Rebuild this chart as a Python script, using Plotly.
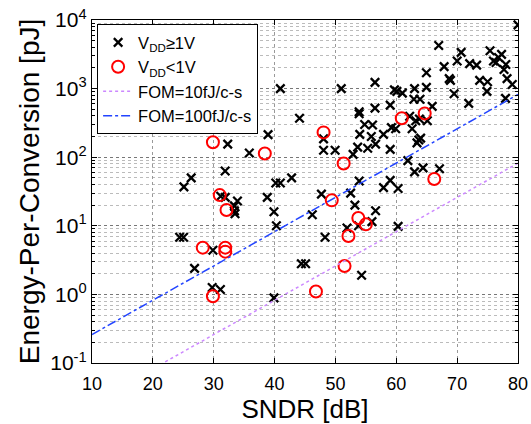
import plotly.graph_objects as go

# VDD >= 1V (black x)
hi_sndr = [80.0, 66.97, 70.66, 75.4, 70.0, 67.86, 72.06, 73.2, 75.97, 76.8, 77.3, 76.4, 78.0, 77.7, 78.2, 79.06,
           64.95, 68.7, 68.9, 73.7, 75.0, 74.9, 69.5, 77.95, 71.9, 65.9, 56.5, 59.7, 60.1, 61.0, 63.0, 64.95,
           62.9, 63.9, 50.96, 40.95, 44.1, 53.9, 53.9, 56.5, 59.0, 54.8, 56.1, 54.0, 55.9, 57.9, 59.2, 59.9,
           62.2, 62.6, 63.2, 63.8, 65.1, 63.7, 64.0, 63.4, 56.6, 55.3, 53.65, 52.9, 59.0, 61.9, 63.0, 64.4,
           67.1, 38.93, 48.05, 48.05, 49.95, 35.85, 32.3, 31.88, 26.3, 25.1, 42.8, 40.2, 40.95, 38.8, 39.9,
           40.3, 47.7, 53.9, 59.0, 57.9, 60.3, 52.5, 53.2, 56.6, 56.0, 53.8, 51.9, 60.3, 46.2, 48.3, 31.15,
           31.9, 33.4, 33.9, 33.4, 33.5, 24.4, 25.05, 29.87, 26.85, 29.75, 31.1, 39.9, 44.4, 45.1, 54.3]
hi_energy = [8500, 4250, 3370, 3560, 2530, 2090, 2310, 2200, 2530, 2840, 3150, 2400, 2250, 1900, 1400, 1150,
             1700, 1400, 1320, 1320, 1260, 910, 840, 720, 610, 550, 1230, 960, 910, 860, 1000, 1040,
             700, 700, 1000, 1000, 370, 460, 430, 520, 575, 300, 295, 215, 200, 215, 270, 260,
             395, 260, 340, 360, 340, 178, 190, 162, 155, 135, 140, 110, 130, 89, 61, 70,
             68, 213, 185, 126, 126, 115, 155, 63, 50, 37, 50, 42, 42, 26, 16,
             10, 29, 45, 46, 36, 35, 30, 20, 16.6, 11.5, 10, 9.3, 9.8, 14.5, 6.8, 27,
             26, 19.5, 23, 16.5, 15, 6.8, 6.8, 4.4, 2.4, 1.26, 1.18, 0.89, 2.8, 2.8, 1.9]

# VDD < 1V (red circles)
lo_sndr = [29.87, 38.4, 48.05, 51.35, 60.9, 64.67, 66.24, 30.99, 32.1, 49.4, 53.76, 55.0, 52.14, 28.2,
           31.9, 31.9, 51.5, 29.87, 46.8]
lo_energy = [165, 113, 230, 81, 370, 435, 48, 28, 17, 23.5, 13, 10.5, 7.1, 4.8,
             4.8, 4.2, 2.6, 0.94, 1.1]

# FOM reference lines (endpoints)
fom_sndr = [10, 80]
fom10_energy = [0.026, 82]
fom100_energy = [0.26, 820]

y_tickvals = [0.1, 1, 10, 100, 1000, 10000]
y_ticktext = ["10<sup>-1</sup>", "10<sup>0</sup>", "10<sup>1</sup>", "10<sup>2</sup>", "10<sup>3</sup>", "10<sup>4</sup>"]
x_tickvals = [10, 20, 30, 40, 50, 60, 70, 80]

FONT = "Liberation Sans, Arial, sans-serif"

fig = go.Figure()
fig.add_trace(go.Scatter(x=hi_sndr, y=hi_energy, mode="markers", name="V<sub>DD</sub>≥1V",
                         marker=dict(symbol="x-thin-open", size=8.5, color="black",
                                     line=dict(color="black", width=2.3))))
fig.add_trace(go.Scatter(x=lo_sndr, y=lo_energy, mode="markers", name="V<sub>DD</sub><1V",
                         marker=dict(symbol="circle-open", size=12, color="#ff0000",
                                     line=dict(color="#ff0000", width=2))))
fig.add_trace(go.Scatter(x=fom_sndr, y=fom10_energy, mode="lines", name="FOM=10fJ/c-s",
                         line=dict(color="#cc88ff", width=1.5, dash="dot")))
fig.add_trace(go.Scatter(x=fom_sndr, y=fom100_energy, mode="lines", name="FOM=100fJ/c-s",
                         line=dict(color="#2244ff", width=1.5, dash="dashdot")))

fig.update_layout(
    width=531, height=424,
    margin=dict(l=92, r=13, t=20, b=61, autoexpand=False),
    plot_bgcolor="white", paper_bgcolor="white",
    font=dict(family=FONT, color="black", size=18),
    showlegend=True,
    legend=dict(x=0.012, y=0.988, xanchor="left", yanchor="top",
                bordercolor="black", borderwidth=1, bgcolor="white",
                font=dict(size=16.5, family=FONT), tracegroupgap=0, itemwidth=30),
)
fig.update_xaxes(
    range=[10, 80], tickvals=x_tickvals, ticks="inside", ticklen=5, tickcolor="black",
    showline=True, linecolor="black", linewidth=1.3, mirror="ticks",
    showgrid=True, gridcolor="#999999", griddash="dot", gridwidth=1,
    zeroline=False, tickfont=dict(size=18), automargin=False, ticklabelstandoff=4,
    title=dict(text="SNDR [dB]", font=dict(size=26), standoff=4),
)
fig.update_yaxes(
    type="log", range=[-1, 4], tickvals=y_tickvals, ticktext=y_ticktext,
    ticks="inside", ticklen=5, tickcolor="black",
    showline=True, linecolor="black", linewidth=1.3, mirror="ticks",
    showgrid=True, gridcolor="#777777", griddash="dot", gridwidth=1,
    zeroline=False, tickfont=dict(size=21), automargin=False,
    minor=dict(ticks="inside", ticklen=3, tickcolor="black", showgrid=True,
               gridcolor="#bbbbbb", griddash="dot", gridwidth=1, dtick="D1"),
    title=dict(text="Energy-Per-Conversion [pJ]", font=dict(size=28), standoff=2),
)

fig.write_html("out.html", config={"displayModeBar": False},
               post_script="document.body.style.margin='0';document.body.style.overflow='hidden';")
